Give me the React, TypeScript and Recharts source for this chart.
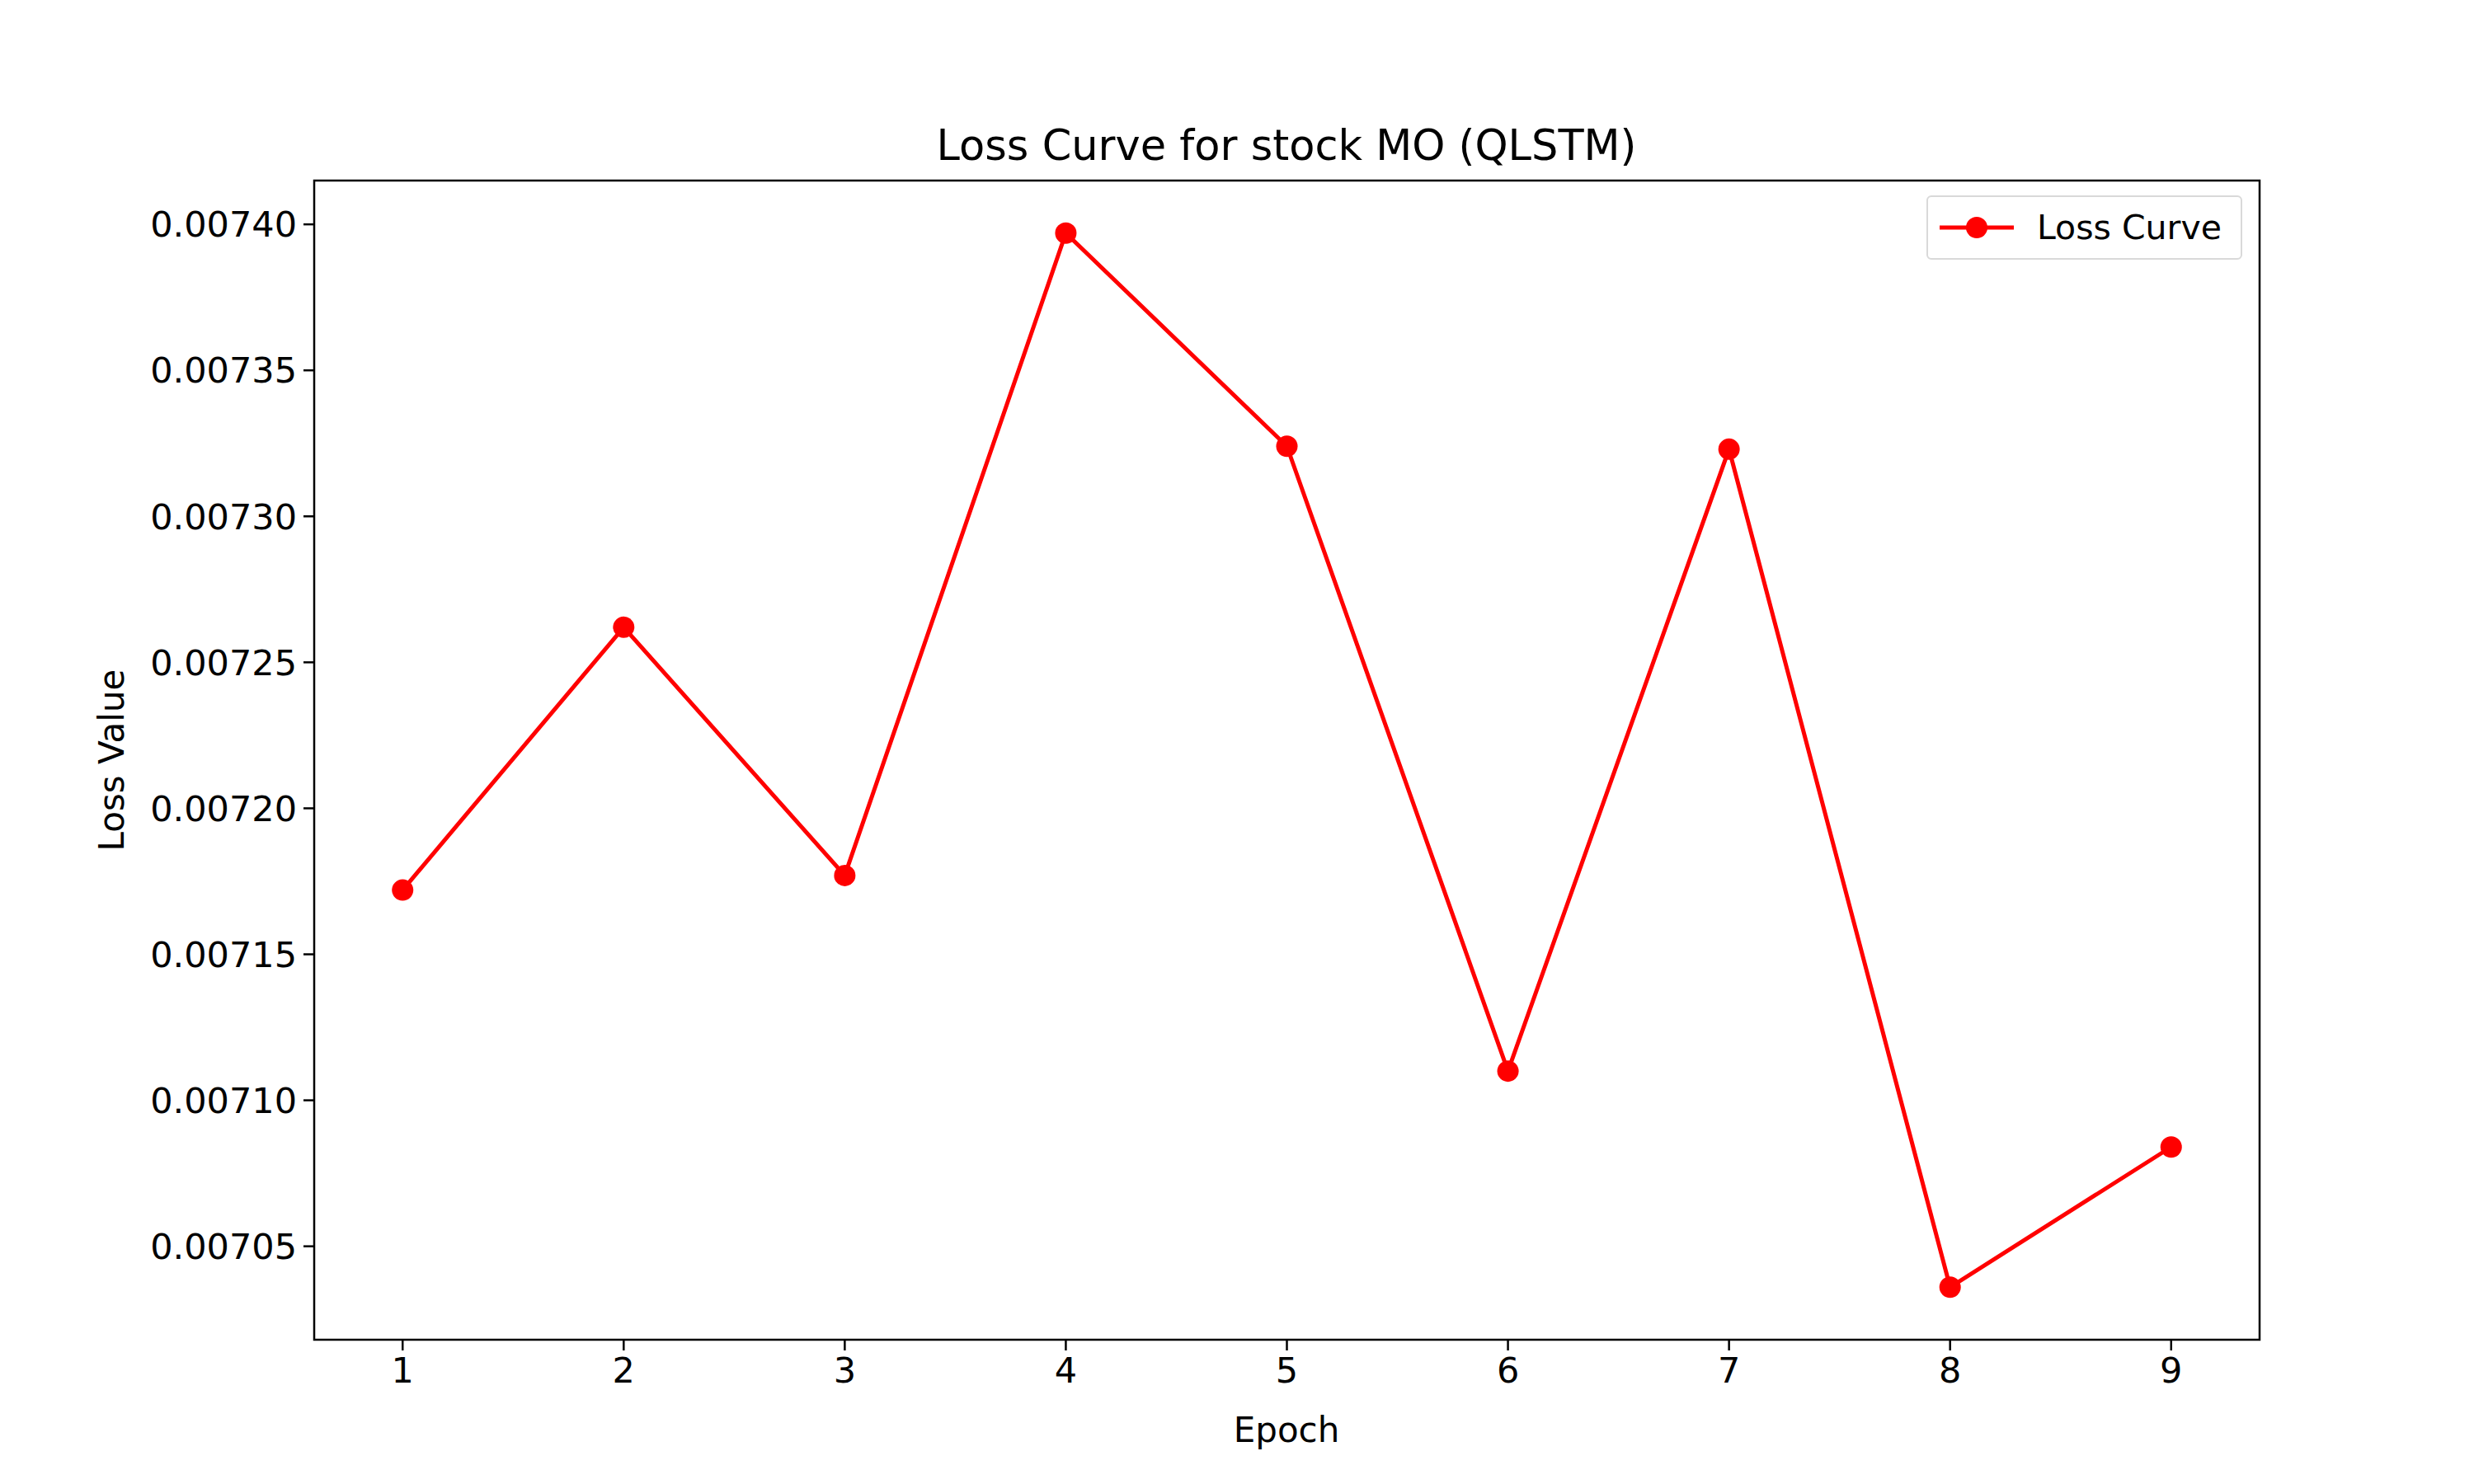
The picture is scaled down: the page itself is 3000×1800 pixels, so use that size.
import { LineChart, Line, XAxis, YAxis } from "recharts";

const epochs = [1, 2, 3, 4, 5, 6, 7, 8, 9];
const lossValues = [0.007172, 0.007262, 0.007177, 0.007397, 0.007324, 0.00711, 0.007323, 0.007036, 0.007084];
const yTicks = [0.00705, 0.0071, 0.00715, 0.0072, 0.00725, 0.0073, 0.00735, 0.0074];

const data = epochs.map((e, i) => ({ epoch: e, loss: lossValues[i] }));
const font = "DejaVu Sans, sans-serif";

function LegendBox() {
  return (
    <div
      style={{
        position: "absolute",
        left: 2336,
        top: 237,
        width: 383,
        height: 78,
        border: "2px solid #d9d9d9",
        borderRadius: 6,
        background: "white",
        fontFamily: font,
        fontSize: 41,
        display: "flex",
        alignItems: "center",
        boxSizing: "border-box",
      }}
    >
      <svg width="100" height="40" style={{ marginLeft: 12 }}>
        <line x1="2" y1="20" x2="92" y2="20" stroke="red" strokeWidth={5} />
        <circle cx="47" cy="20" r="13" fill="red" />
      </svg>
      <span style={{ marginLeft: 20 }}>Loss Curve</span>
    </div>
  );
}

export default function App() {
  return (
    <div style={{ position: "absolute", left: 0, top: 0, width: 3000, height: 1800, background: "white" }}>
      <LineChart
        width={3000}
        height={1800}
        data={data}
        margin={{ top: 219, right: 260, left: 181, bottom: 75 }}
      >
        <text x={1560} y={194} textAnchor="middle" fontFamily={font} fontSize={51} fill="#000">
          Loss Curve for stock MO (QLSTM)
        </text>
        <text x={150} y={922} textAnchor="middle" fontFamily={font} fontSize={42} fill="#000" transform="rotate(-90 150 922)">
          Loss Value
        </text>
        <text x={1560} y={1749} textAnchor="middle" fontFamily={font} fontSize={42} fill="#000">
          Epoch
        </text>
        <rect x={381} y={219} width={2359} height={1406} fill="none" stroke="#000" strokeWidth={2.5} />
        <XAxis
          dataKey="epoch"
          type="number"
          domain={[0.6, 9.4]}
          ticks={epochs}
          height={100}
          tickSize={13}
          tickMargin={8}
          axisLine={false}
          tickLine={{ stroke: "#000", strokeWidth: 2.5 }}
          tick={{ fill: "#000", fontSize: 43, fontFamily: font }}
        />
        <YAxis
          type="number"
          domain={[0.007018, 0.007415]}
          ticks={yTicks}
          width={200}
          tickSize={13}
          tickMargin={8}
          axisLine={false}
          tickLine={{ stroke: "#000", strokeWidth: 2.5 }}
          tickFormatter={(v: number) => v.toFixed(5)}
          tick={{ fill: "#000", fontSize: 43, fontFamily: font }}
          allowDataOverflow
        />
        <Line
          dataKey="loss"
          stroke="red"
          strokeWidth={5}
          dot={{ r: 13, fill: "red", stroke: "red", strokeWidth: 0 }}
          isAnimationActive={false}
        />
      </LineChart>
      <LegendBox />
    </div>
  );
}
